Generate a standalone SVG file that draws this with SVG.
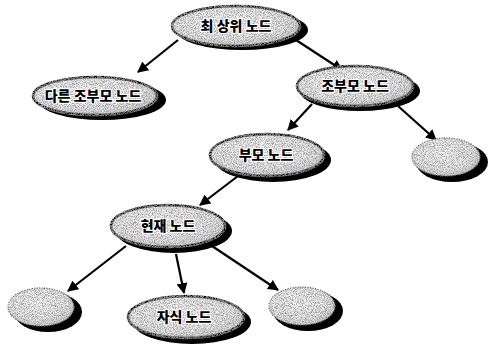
<svg xmlns="http://www.w3.org/2000/svg" width="492" height="345" viewBox="0 0 492 345">
<defs>
<style>
.sh{fill:#000}
.nd{fill:url(#rg);stroke:#000;stroke-width:2.5;filter:url(#grain)}
.em{fill:url(#rg);stroke:#444;stroke-width:1.2;stroke-dasharray:1 1.5;filter:url(#grain)}
.t{font-family:"Noto Sans CJK KR","Noto Sans",sans-serif;font-weight:900;font-size:14px;fill:#000;text-anchor:middle;stroke:#fff;stroke-width:2.2;paint-order:stroke}
.c line{stroke:#000;stroke-width:2.2;marker-end:url(#ah)}
</style>
<radialGradient id="rg" cx="45%" cy="40%" r="60%">
<stop offset="0" stop-color="#ffffff"/>
<stop offset="0.7" stop-color="#eeeeee"/>
<stop offset="1" stop-color="#cfcfcf"/>
</radialGradient>
<filter id="grain" x="-5%" y="-5%" width="110%" height="110%">
<feTurbulence type="fractalNoise" baseFrequency="1.1" numOctaves="2" seed="3" result="n"/>
<feColorMatrix in="n" type="matrix" values="0 0 0 0 0  0 0 0 0 0  0 0 0 0 0  0 0 0 -2.5 1.85" result="a"/>
<feComposite in="SourceGraphic" in2="a" operator="in" result="g"/>
<feFlood flood-color="#9a9a9a"/>
<feComposite in2="SourceAlpha" operator="in" result="bg"/>
<feMerge><feMergeNode in="bg"/><feMergeNode in="g"/></feMerge>
</filter>
<marker id="ah" viewBox="0 0 10 10" refX="9" refY="5" markerWidth="5" markerHeight="5" orient="auto">
<path d="M0,0 L10,5 L0,10 z" fill="#000"/>
</marker>
</defs>
<rect width="492" height="345" fill="#fff"/>
<g class="c" id="connectors">
<line x1="178" y1="40" x2="138" y2="72"/>
<line x1="296" y1="40" x2="342" y2="70"/>
<line x1="312" y1="104" x2="288" y2="130"/>
<line x1="398" y1="106" x2="436" y2="140"/>
<line x1="238" y1="176" x2="200" y2="205"/>
<line x1="126" y1="246" x2="68" y2="291"/>
<line x1="176" y1="254" x2="184" y2="293"/>
<line x1="212" y1="246" x2="278" y2="290"/>
</g>
<g id="root">
<ellipse class="sh" cx="242" cy="30" rx="66" ry="20"/>
<ellipse class="nd" cx="236" cy="26" rx="64" ry="20"/>
<text class="t" x="236" y="31">최 상위 노드</text>
</g>
<g id="other-grandparent">
<ellipse class="sh" cx="102" cy="100" rx="64" ry="20"/>
<ellipse class="nd" cx="95" cy="96" rx="62" ry="19"/>
<text class="t" x="93" y="101">다른 조부모 노드</text>
</g>
<g id="grandparent">
<ellipse class="sh" cx="360" cy="91" rx="60" ry="20"/>
<ellipse class="nd" cx="355" cy="86" rx="58" ry="20"/>
<text class="t" x="355" y="91">조부모 노드</text>
</g>
<g id="parent">
<ellipse class="sh" cx="273" cy="160" rx="58" ry="22"/>
<ellipse class="nd" cx="267" cy="155" rx="57" ry="21"/>
<text class="t" x="266" y="160">부모 노드</text>
</g>
<g id="empty-right">
<ellipse class="sh" cx="452" cy="162" rx="36" ry="20"/>
<ellipse class="em" cx="446" cy="157" rx="34" ry="19"/>
</g>
<g id="current">
<ellipse class="sh" cx="174" cy="231" rx="58" ry="22"/>
<ellipse class="nd" cx="168" cy="226" rx="57" ry="21"/>
<text class="t" x="168" y="231">현재 노드</text>
</g>
<g id="empty-left">
<ellipse class="sh" cx="48" cy="312" rx="34" ry="20"/>
<ellipse class="em" cx="41" cy="307" rx="33" ry="19"/>
</g>
<g id="child">
<ellipse class="sh" cx="192" cy="322" rx="59" ry="22"/>
<ellipse class="nd" cx="186" cy="317" rx="58" ry="21"/>
<text class="t" x="184" y="322">자식 노드</text>
</g>
<g id="empty-mid">
<ellipse class="sh" cx="308" cy="311" rx="35" ry="20"/>
<ellipse class="em" cx="302" cy="306" rx="33" ry="19"/>
</g>
</svg>
